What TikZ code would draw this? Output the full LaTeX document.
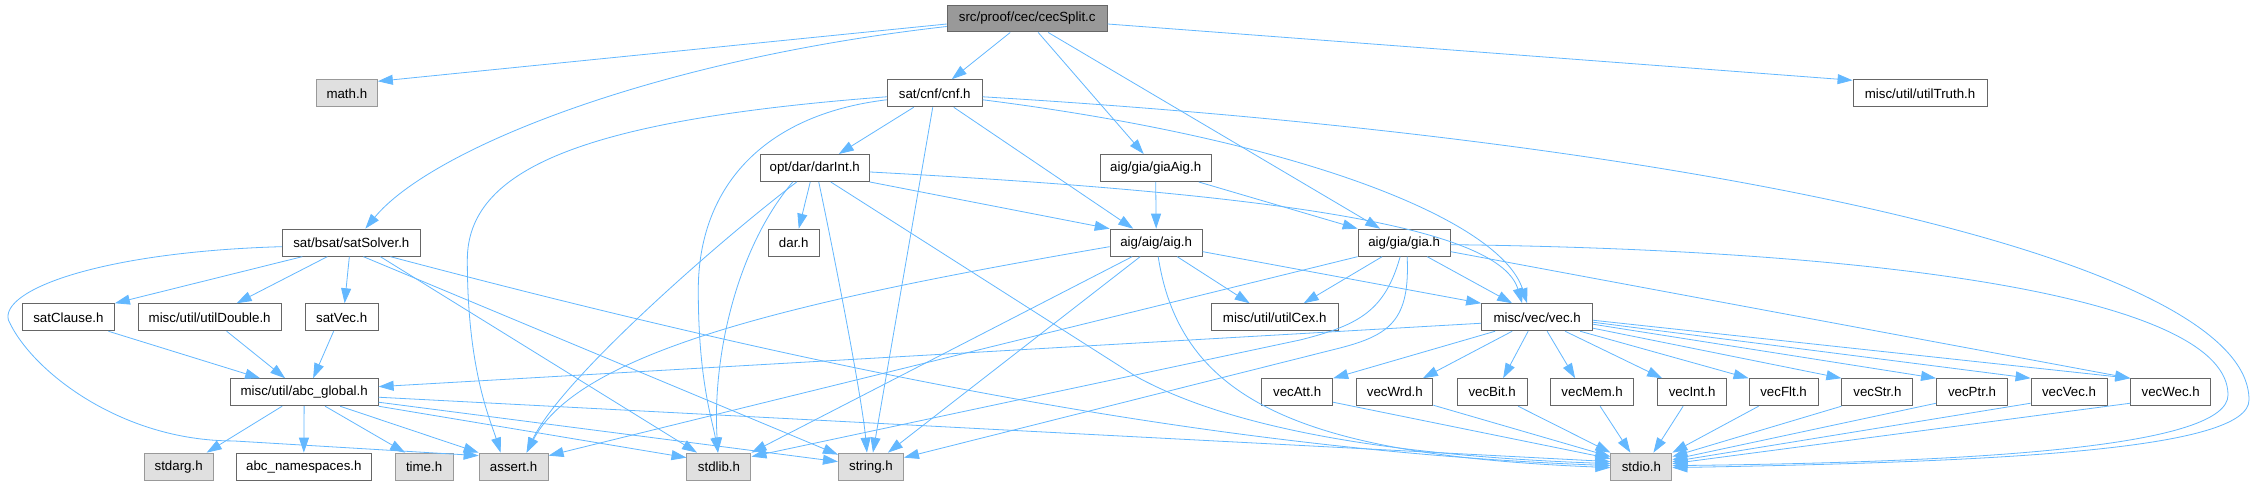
\documentclass[tikz,border=0pt]{standalone}
\usepackage{fontspec}
\setmainfont{Liberation Sans}
\usetikzlibrary{arrows.meta}

\begin{document}
\begin{tikzpicture}[x=1pt,y=-1pt,
	file/.style={draw=boxline, fill=white, line width=1pt, minimum height=27, inner sep=0pt, font=\fontsize{13.3}{16}\selectfont},
	sys/.style={file, draw=sysline, fill=sysfill},
	root/.style={file, draw=boxline, fill=rootfill},
	dep/.style={draw=edgeblue, line width=0.8pt, -{Triangle[length=15pt,width=10pt]}}]

% Colours
\definecolor{edgeblue}{HTML}{63B8FF}
\definecolor{boxline}{HTML}{666666}
\definecolor{sysline}{HTML}{999999}
\definecolor{sysfill}{HTML}{E0E0E0}
\definecolor{rootfill}{HTML}{999999}

\fill[white] (0,0) rectangle (2256,485);

% Files, row by row
\node[root, minimum width=160] (cec) at (1027,18.5) {src/proof/cec/cecSplit.c};

\node[sys, minimum width=61] (math) at (346.5,93.3) {math.h};
\node[file, minimum width=95] (cnf) at (934.5,93.3) {sat/cnf/cnf.h};
\node[file, minimum width=134] (truth) at (1920,93.3) {misc/util/utilTruth.h};

\node[file, minimum width=109] (darint) at (814.5,168) {opt/dar/darInt.h};
\node[file, minimum width=111] (giaaig) at (1155.5,168) {aig/gia/giaAig.h};

\node[file, minimum width=138] (satsolver) at (351,242.7) {sat/bsat/satSolver.h};
\node[file, minimum width=51] (dar) at (793.5,242.7) {dar.h};
\node[file, minimum width=92] (aig) at (1156,242.7) {aig/aig/aig.h};
\node[file, minimum width=92] (gia) at (1404,242.7) {aig/gia/gia.h};

\node[file, minimum width=92] (satclause) at (68,317.3) {satClause.h};
\node[file, minimum width=143] (utildouble) at (209.3,317.3) {misc/util/utilDouble.h};
\node[file, minimum width=73] (satvec) at (341.3,317.3) {satVec.h};
\node[file, minimum width=127] (utilcex) at (1274.5,317.3) {misc/util/utilCex.h};
\node[file, minimum width=111] (vec) at (1537,317.3) {misc/vec/vec.h};

\node[file, minimum width=148] (abcglobal) at (303.8,392.3) {misc/util/abc\_global.h};
\foreach \n/\x/\w in {Att/1297/71,Wrd/1394.7/76,Bit/1492/70,Mem/1592/83,Int/1692/69,
	Flt/1783.5/69,Str/1877.3/71,Ptr/1972/71,Vec/2069/76,Wec/2170.7/80}{
	\node[file, minimum width=\w] (vec\n) at (\x,392.3) {vec\n.h};
}

\node[sys, minimum width=69] (stdarg) at (178.3,466.7) {stdarg.h};
\node[file, minimum width=135] (abcns) at (303.5,466.7) {abc\_namespaces.h};
\node[sys, minimum width=58] (time) at (423.8,466.7) {time.h};
\node[sys, minimum width=69] (assert) at (513.3,466.7) {assert.h};
\node[sys, minimum width=64] (stdlib) at (718.7,466.7) {stdlib.h};
\node[sys, minimum width=65] (string) at (870.7,466.7) {string.h};
\node[sys, minimum width=61] (stdio) at (1641.3,466.7) {stdio.h};

% cecSplit.c
\draw[dep] ([yshift=-5.5]cec.west) -- ([yshift=-2]math.north east);
\draw[dep] ([yshift=-8]cec.west) .. controls (650,60) and (430,150) .. ([xshift=14]satsolver.north);
\draw[dep] ([xshift=-17]cec.south) -- ([xshift=17]cnf.north);
\draw[dep] ([xshift=11]cec.south) -- ([xshift=-12]giaaig.north);
\draw[dep] ([xshift=21]cec.south) -- ([xshift=-24]gia.north);
\draw[dep] ([yshift=-5.5]cec.east) -- ([yshift=-1]truth.north west);

% cnf.h
\draw[dep] ([xshift=-21]cnf.south) -- ([xshift=24]darint.north);
\draw[dep] ([xshift=-2]cnf.south) -- ([xshift=2]string.north);
\draw[dep] ([xshift=19]cnf.south) -- ([xshift=-23]aig.north);
\draw[dep] ([yshift=-3.5]cnf.west) .. controls (580,120) and (467,170) .. (467,260)
	.. controls (467,370) and (490,420) .. ([xshift=-13]assert.north);
\draw[dep] ([yshift=-6.5]cnf.west) .. controls (760,115) and (698,190) .. (698,290)
	.. controls (698,380) and (712,420) .. ([xshift=-1]stdlib.north);
\draw[dep] ([yshift=-6.5]cnf.east) .. controls (1300,140) and (1500,220) .. ([xshift=-10]vec.north);
\draw[dep] ([yshift=-3.5]cnf.east) .. controls (1700,140) and (2249,260) .. (2249,400)
	.. controls (2249,450) and (2000,462) .. ([yshift=-1]stdio.east);

% darInt.h
\draw[dep] ([xshift=-4.5]darint.south) -- ([xshift=5]dar.north);
\draw[dep] (darint.south east) -- (aig.north west);
\draw[dep] ([yshift=-4]darint.east) .. controls (1300,195) and (1500,230) .. ([xshift=-15]vec.north);
\draw[dep] ([xshift=4]darint.south) .. controls (835,260) and (862,400) .. ([xshift=-4]string.north);
\draw[dep] ([xshift=16]darint.south) -- (1135,376) .. controls (1250,440) and (1450,458) .. ([yshift=3]stdio.west);
\draw[dep] ([xshift=-18]darint.south) .. controls (720,240) and (560,380) .. ([xshift=13]assert.north);
\draw[dep] ([xshift=-22]darint.south) .. controls (735,250) and (712,360) .. ([xshift=-1]stdlib.north);

% giaAig.h
\draw[dep] (giaaig.south) -- (aig.north);
\draw[dep] ([xshift=43]giaaig.south) -- (gia.north west);

% aig.h
\draw[dep] ([xshift=21]aig.south) -- ([xshift=-25]utilcex.north);
\draw[dep] ([yshift=-9]aig.east) -- (vec.north west);
\draw[dep] ([yshift=-4]aig.west) .. controls (800,300) and (580,350) .. ([xshift=13]assert.north);
\draw[dep] ([xshift=-24]aig.south) -- (stdlib.north east);
\draw[dep] ([xshift=-16]aig.south) -- ([xshift=17]string.north);
\draw[dep] ([xshift=2]aig.south) .. controls (1180,400) and (1300,455) .. ([yshift=-1]stdio.west);

% gia.h
\draw[dep] ([xshift=-22]gia.south) -- ([xshift=29]utilcex.north);
\draw[dep] ([xshift=23]gia.south) -- ([xshift=-25]vec.north);
\draw[dep] (gia.south west) -- ([yshift=-3]assert.north east);
\draw[dep] ([xshift=-4]gia.south) .. controls (1385,310) and (1360,325) .. (1300,340) -- ([yshift=-4]stdlib.north east);
\draw[dep] ([xshift=3]gia.south) .. controls (1410,320) and (1390,335) .. (1340,348) -- ([yshift=-5]string.north east);
\draw[dep] ([yshift=-9]gia.east) -- (vecWec.north west);
\draw[dep] ([yshift=-2]gia.east) .. controls (1900,250) and (2228,300) .. (2228,395)
	.. controls (2228,445) and (2000,462) .. ([yshift=1]stdio.east);

% satSolver.h
\draw[dep] ([xshift=-49]satsolver.south) -- (satclause.north east);
\draw[dep] ([xshift=-24]satsolver.south) -- ([xshift=27]utildouble.north);
\draw[dep] ([xshift=-2]satsolver.south) -- ([xshift=3]satvec.north);
\draw[dep] ([yshift=-4]satsolver.west) .. controls (100,252) and (0,290) .. (8,320)
	.. controls (30,370) and (120,441) .. (233,441) -- ([yshift=-3]assert.north west);
\draw[dep] ([xshift=29]satsolver.south) -- ([xshift=-22]stdlib.north);
\draw[dep] ([xshift=12]satsolver.south) -- ([yshift=-2]string.north west);
\draw[dep] ([xshift=39]satsolver.south) .. controls (800,365) and (1200,450) .. ([yshift=1]stdio.west);

\draw[dep] ([xshift=40]satclause.south) -- ([xshift=-44]abcglobal.north);
\draw[dep] ([xshift=17]utildouble.south) -- ([xshift=-19]abcglobal.north);
\draw[dep] ([xshift=-8]satvec.south) -- ([xshift=9]abcglobal.north);

% abc_global.h
\draw[dep] ([xshift=-22]abcglobal.south) -- ([xshift=28]stdarg.north);
\draw[dep] (abcglobal.south) -- (abcns.north);
\draw[dep] ([xshift=21]abcglobal.south) -- ([xshift=-19]time.north);
\draw[dep] ([xshift=36]abcglobal.south) -- (assert.north west);
\draw[dep] (abcglobal.south east) -- ([yshift=9]stdlib.west);
\draw[dep] ([yshift=-10]abcglobal.east) -- ([yshift=5]string.west);
\draw[dep] ([yshift=-5]abcglobal.east) -- ([yshift=5]stdio.west);

% vec.h
\draw[dep] ([yshift=-6]vec.west) -- ([yshift=5.6]abcglobal.east);
\draw[dep] ([xshift=-42]vec.south) -- (vecAtt.north east);
\draw[dep] ([xshift=-25]vec.south) -- ([xshift=28]vecWrd.north);
\draw[dep] ([xshift=-9]vec.south) -- ([xshift=11]vecBit.north);
\draw[dep] ([xshift=10]vec.south) -- ([xshift=-17]vecMem.north);
\draw[dep] ([xshift=28]vec.south) -- ([xshift=-30]vecInt.north);
\draw[dep] ([xshift=43]vec.south) -- (vecFlt.north west);
\draw[dep] ([yshift=3]vec.south east) -- (vecStr.north west);
\draw[dep] ([yshift=-7]vec.east) -- (vecPtr.north west);
\draw[dep] ([yshift=-5]vec.east) -- (vecVec.north west);
\draw[dep] ([yshift=-3]vec.east) -- (vecWec.north west);

% into stdio.h
\draw[dep] ([yshift=4]vecAtt.south east) -- ([yshift=8]stdio.west);
\draw[dep] ([yshift=1]vecWrd.south east) -- ([yshift=10]stdio.west);
\draw[dep] ([xshift=26]vecBit.south) -- (stdio.north west);
\draw[dep] ([xshift=8]vecMem.south) -- ([xshift=-11]stdio.north);
\draw[dep] ([xshift=-9]vecInt.south) -- ([xshift=12]stdio.north);
\draw[dep] ([xshift=-25]vecFlt.south) -- (stdio.north east);
\draw[dep] (vecStr.south west) -- ([yshift=10]stdio.east);
\foreach \n/\s in {Ptr/7,Vec/5,Wec/3}{
	\draw[dep] ([yshift=3]vec\n.south west) -- ([yshift=\s]stdio.east);
}
\end{tikzpicture}
\end{document}
